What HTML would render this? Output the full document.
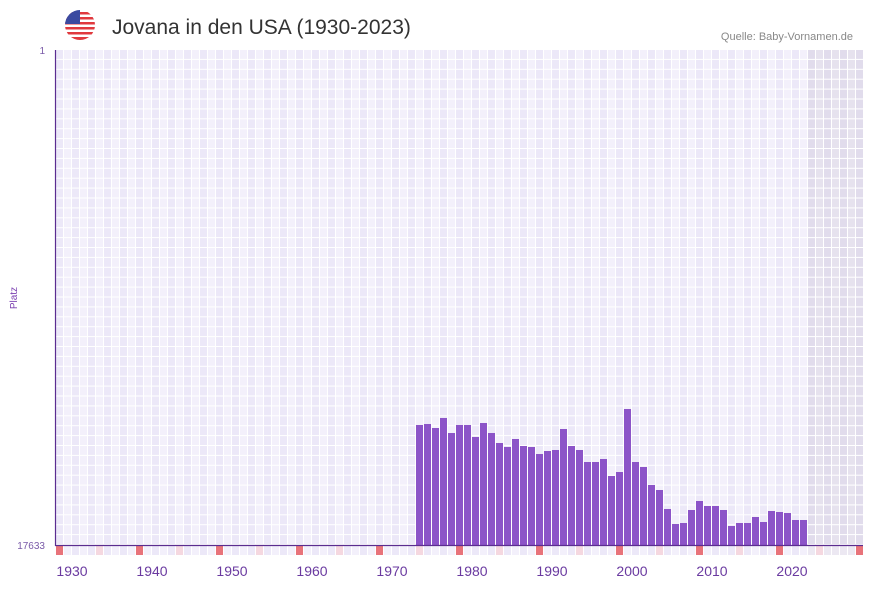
<!DOCTYPE html>
<html><head><meta charset="utf-8"><style>
body{margin:0;background:#fff;width:873px;height:587px;overflow:hidden;font-family:"Liberation Sans","DejaVu Sans",sans-serif}
</style></head><body>
<svg id="s" width="873" height="587" xmlns="http://www.w3.org/2000/svg">
<defs><clipPath id="fc"><circle cx="80" cy="25" r="15"/></clipPath></defs>
<g clip-path="url(#fc)">
<rect x="65" y="10" width="30" height="30" fill="#fff"/>
<rect x="65" y="12" width="30" height="2.5" fill="#e0393e"/>
<rect x="65" y="17" width="30" height="2.5" fill="#e0393e"/>
<rect x="65" y="22" width="30" height="2.5" fill="#e0393e"/>
<rect x="65" y="27" width="30" height="2.5" fill="#e0393e"/>
<rect x="65" y="32" width="30" height="2.5" fill="#e0393e"/>
<rect x="65" y="37" width="30" height="3" fill="#e0393e"/>
<rect x="65" y="10" width="15" height="14" fill="#3b4aa0"/>
</g>
<text x="112" y="34" font-size="21" fill="#333">Jovana in den USA (1930-2023)</text>
<text x="853" y="40" font-size="11" fill="#888" text-anchor="end">Quelle: Baby-Vornamen.de</text>
<g id="grid"></g>
<g id="bars" fill="#8c54c8"></g>
<line x1="55.5" y1="50" x2="55.5" y2="546" stroke="#5b2d90" stroke-width="1.2"/>
<line x1="55" y1="545.5" x2="863" y2="545.5" stroke="#5b2d90" stroke-width="1.2"/>
<text x="45" y="54" font-size="10" fill="#7a5aa8" text-anchor="end">1</text>
<text x="45" y="549" font-size="10" fill="#7a5aa8" text-anchor="end">17633</text>
<text transform="translate(17,298) rotate(-90)" font-size="10" fill="#7a3fb0" text-anchor="middle">Platz</text>
<g id="lab" font-size="14" fill="#6a3aa0" text-anchor="middle"></g>
</svg>
<script>
var ns="http://www.w3.org/2000/svg",g=document.getElementById('grid'),b=document.getElementById('bars'),l=document.getElementById('lab');
function R(p,x,y,w,h,f){var r=document.createElementNS(ns,'rect');r.setAttribute('x',x);r.setAttribute('y',y);r.setAttribute('width',w);r.setAttribute('height',h);if(f)r.setAttribute('fill',f);p.appendChild(r);}
for(var i=0;i<101;i++){var yr=1928+i,x=56+i*8,gr=yr>=2022;
 var c=gr?(i%2?'#e6e2ee':'#e1dcec'):(i%2?'#f3f0fb':'#ece8f8');
 for(var j=0;j<50;j++){R(g,x,50+j*9.9,7,8.9,c);}
 var sc=yr%10==8?'#e8737a':(yr%10==3?'#f5d8e0':(gr?'#ece8f2':(i%2?'#f3f0fb':'#ece8f8')));
 R(g,x,546,7,9,sc);
 if(yr%10==0){var t=document.createElementNS(ns,'text');t.setAttribute('x',x);t.setAttribute('y',576);t.textContent=yr;l.appendChild(t);}
}
var tops=[425,424,428,418,433,425,425,437,423,433,443,447,439,446,447,454,451,450,429,446,450,462,462,459,476,472,409,462,467,485,490,509,524,523,510,501,506,506,510,526,523,523,517,522,511,512,513,520,520];
for(var k=0;k<tops.length;k++){R(b,416+k*8,tops[k],7,545-tops[k]);}
</script>
</body></html>
